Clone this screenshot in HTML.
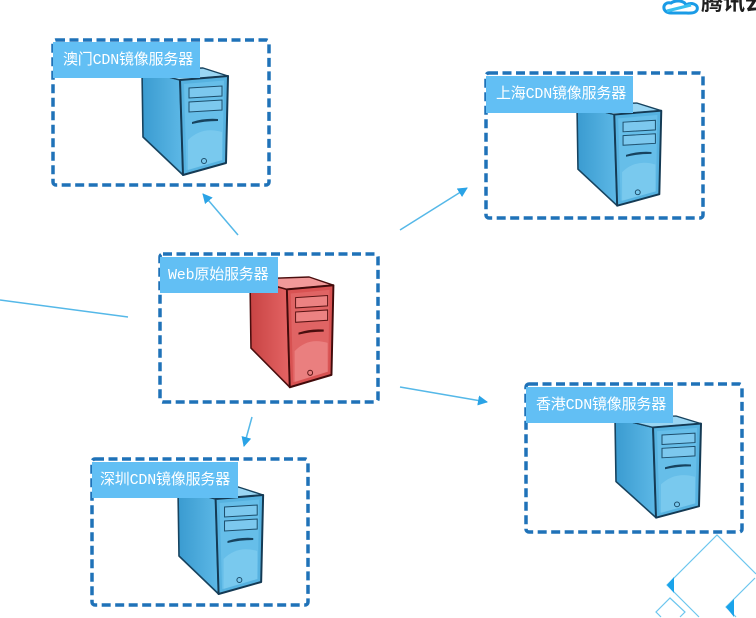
<!DOCTYPE html>
<html><head><meta charset="utf-8">
<style>
html,body{margin:0;padding:0;background:#fff;width:756px;height:618px;overflow:hidden;}
body{position:relative;font-family:"Liberation Mono","Noto Sans CJK SC",monospace;}
svg{position:absolute;left:0;top:0;}
.lbl{position:absolute;background:#62bff4;color:#fff;font-size:15px;line-height:15px;white-space:nowrap;box-sizing:border-box;padding-left:10px;display:flex;align-items:center;letter-spacing:-0.2px;}
.logo{position:absolute;left:701px;top:-9px;font-family:"Liberation Sans","Noto Sans CJK SC",sans-serif;font-size:22px;color:#1e1e1e;font-weight:bold;line-height:24px;white-space:nowrap;}
</style></head><body>
<svg width="756" height="618" viewBox="0 0 756 618">
<defs>
<linearGradient id="sideB" x1="0" y1="0" x2="1" y2="0"><stop offset="0" stop-color="#3a9bd0"/><stop offset="1" stop-color="#5db8e6"/></linearGradient>
<linearGradient id="sideR" x1="0" y1="0" x2="1" y2="0"><stop offset="0" stop-color="#c84444"/><stop offset="1" stop-color="#e46464"/></linearGradient>
<g id="srvB">
<polygon points="0,2 38,12 41,107 1,69" fill="url(#sideB)" stroke="#17435f" stroke-width="1.6" stroke-linejoin="round"/>
<polygon points="0,2 61,0 86,8 38,12" fill="#9ad6f3" stroke="#17435f" stroke-width="1.4" stroke-linejoin="round"/>
<polygon points="38,12 86,8 84,95 41,107" fill="#56b2e0" stroke="#143a54" stroke-width="2" stroke-linejoin="round"/>
<polygon points="42,16 82,12.5 80.5,92 44.5,102" fill="#66bee9"/>
<polygon points="47,20 80,18 80,28 47,30" fill="#7cc8ee" stroke="#1c4d6b" stroke-width="1"/>
<polygon points="47,34 80,32 80,42 47,44" fill="#7cc8ee" stroke="#1c4d6b" stroke-width="1"/>
<path d="M50,54 Q62,50 76,51 L76,53 Q62,53 50,56 Z" fill="#17435f"/>
<path d="M46,102 L46,72 Q60,58 80,64 L80,92 Z" fill="#82cdef" opacity="0.7"/>
<circle cx="62" cy="93" r="2.5" fill="none" stroke="#1c4d6b" stroke-width="1"/>
</g>
<g id="srvR">
<polygon points="0,2 38,12 41,107 1,69" fill="url(#sideR)" stroke="#4a0e0e" stroke-width="1.6" stroke-linejoin="round"/>
<polygon points="0,2 61,0 86,8 38,12" fill="#f29a9a" stroke="#4a0e0e" stroke-width="1.4" stroke-linejoin="round"/>
<polygon points="38,12 86,8 84,95 41,107" fill="#d85252" stroke="#420b0b" stroke-width="2" stroke-linejoin="round"/>
<polygon points="42,16 82,12.5 80.5,92 44.5,102" fill="#e06464"/>
<polygon points="47,20 80,18 80,28 47,30" fill="#ec8282" stroke="#5a1414" stroke-width="1"/>
<polygon points="47,34 80,32 80,42 47,44" fill="#ec8282" stroke="#5a1414" stroke-width="1"/>
<path d="M50,54 Q62,50 76,51 L76,53 Q62,53 50,56 Z" fill="#4a0e0e"/>
<path d="M46,102 L46,72 Q60,58 80,64 L80,92 Z" fill="#ee8a8a" opacity="0.7"/>
<circle cx="62" cy="93" r="2.5" fill="none" stroke="#5a1414" stroke-width="1"/>
</g>
<marker id="ah" viewBox="0 0 10 10" refX="9" refY="5" markerWidth="10" markerHeight="10" markerUnits="userSpaceOnUse" orient="auto">
<path d="M0,0 L10,5 L0,10 Z" fill="#2aa3e6"/>
</marker>
</defs>

<!-- logo cloud -->
<g fill="none" stroke="#1a9be6" stroke-width="3">
<path d="M671,13 C661,13 662,1 671,3 C675,0 684,0 686,5 C691,2 699,4 697,10 C695,14 689,13 683,13 Z"/>
<path d="M667,11 L691,5" stroke="#38c0f0"/>
</g>

<!-- connectors -->
<g stroke="#55b8e8" stroke-width="1.5" fill="none">
<line x1="238" y1="235" x2="203" y2="194" marker-end="url(#ah)"/>
<line x1="400" y1="230" x2="467" y2="188" marker-end="url(#ah)"/>
<line x1="400" y1="387" x2="487" y2="402" marker-end="url(#ah)"/>
<line x1="252" y1="417" x2="244" y2="446" marker-end="url(#ah)"/>
<line x1="0" y1="300" x2="128" y2="317"/>
</g>

<!-- servers -->
<use href="#srvB" transform="translate(142,68)"/>
<use href="#srvR" transform="translate(250,277) scale(0.97,1.03)"/>
<use href="#srvB" transform="translate(577,103) scale(0.98,0.96)"/>
<use href="#srvB" transform="translate(615,416) scale(1,0.95)"/>
<use href="#srvB" transform="translate(178,487) scale(0.99,1.0)"/>

<!-- dashed boxes -->
<g fill="none" stroke="#1f72b8" stroke-width="3.5" stroke-dasharray="9 4.5">
<rect x="53" y="40" width="216" height="145" rx="3"/>
<rect x="160" y="254" width="218" height="148" rx="3"/>
<rect x="486" y="73" width="217" height="145" rx="3"/>
<rect x="526" y="384" width="216" height="148" rx="3"/>
<rect x="92" y="459" width="216" height="146" rx="3"/>
</g>

<!-- bottom right decoration -->
<g fill="none" stroke="#6cc6ee" stroke-width="1.2">
<polyline points="756,574 717,535 667,585 699,617"/>
<polyline points="755,578 726,607 736,617"/>
<polyline points="661,617 656,612 670,598 685,612 680,617"/>
</g>
<g fill="#1aa3ea">
<polygon points="667,585 674,577 674,593"/>
<polygon points="726,607 734,599 734,617"/>
</g>
</svg>

<div class="lbl" style="left:53px;top:42px;width:147px;height:36px;">澳门CDN镜像服务器</div>
<div class="lbl" style="left:160px;top:257px;width:118px;height:36px;padding-left:8px;">Web原始服务器</div>
<div class="lbl" style="left:486px;top:76px;width:147px;height:37px;">上海CDN镜像服务器</div>
<div class="lbl" style="left:526px;top:387px;width:147px;height:36px;">香港CDN镜像服务器</div>
<div class="lbl" style="left:92px;top:462px;width:146px;height:36px;padding-left:8px;">深圳CDN镜像服务器</div>

<div class="logo">腾讯云</div>
</body></html>
